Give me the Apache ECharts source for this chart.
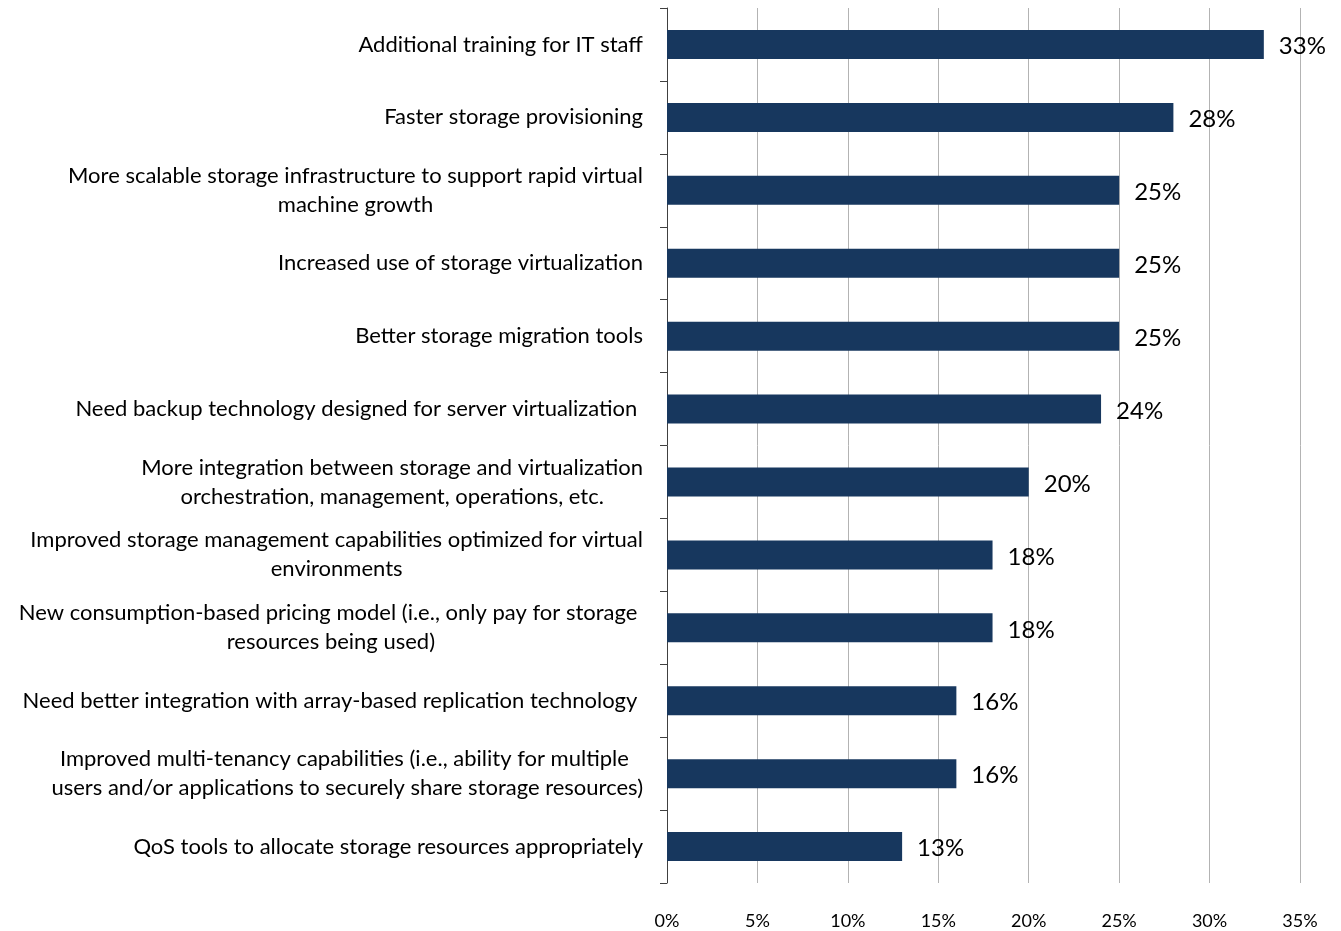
<!DOCTYPE html>
<html>
<head>
<meta charset="utf-8">
<script src="https://cdn.jsdelivr.net/npm/echarts@6/dist/echarts.min.js"></script>
<style>
  html, body { margin: 0; padding: 0; background: #fff; }
  #chart { width: 1341px; height: 931px; }
</style>
</head>
<body>
<div id="chart"></div>
<script>
// Survey responses, listed top to bottom
const categories = [
  'Additional training for IT staff',
  'Faster storage provisioning',
  'More scalable storage infrastructure to support rapid virtual\nmachine growth',
  'Increased use of storage virtualization',
  'Better storage migration tools',
  'Need backup technology designed for server virtualization ',
  'More integration between storage and virtualization\norchestration, management, operations, etc.',
  'Improved storage management capabilities optimized for virtual\nenvironments',
  'New consumption-based pricing model (i.e., only pay for storage \nresources being used)',
  'Need better integration with array-based replication technology ',
  'Improved multi-tenancy capabilities (i.e., ability for multiple \nusers and/or applications to securely share storage resources)',
  'QoS tools to allocate storage resources appropriately'
];
const percentages = [33, 28, 25, 25, 25, 24, 20, 18, 18, 16, 16, 13];
const tickLabels = ['0%', '5%', '10%', '15%', '20%', '25%', '30%', '35%'];

const FONT = 'Lato';
const CAT_SIZE = 22;

const chart = echarts.init(document.getElementById('chart'));
chart.setOption({
  animation: false,
  grid: { left: 667, right: 41, top: 8, bottom: 48, containLabel: false },
  xAxis: {
    type: 'value',
    min: 0,
    max: 35,
    interval: 5,
    axisLine: { show: false },
    axisTick: { show: false },
    splitLine: { show: true, lineStyle: { color: '#b3b3b3', width: 1 } },
    axisLabel: {
      margin: 29,
      fontFamily: FONT,
      fontSize: 18,
      color: '#000',
      formatter: function (v) { return tickLabels[Math.round(v / 5)]; }
    }
  },
  yAxis: {
    type: 'category',
    inverse: true,
    data: categories,
    axisLine: { show: true, lineStyle: { color: '#404040', width: 1 } },
    axisTick: { show: true, length: 7, lineStyle: { color: '#404040' } },
    axisLabel: {
      margin: 24,
      fontFamily: FONT,
      fontSize: CAT_SIZE,
      color: '#000',
      lineHeight: 29,
      formatter: function (v) {
        return v.split('\n').map(function (l) { return '{c|' + l + '}'; }).join('\n');
      },
      rich: {
        c: { align: 'center', fontFamily: FONT, fontSize: CAT_SIZE, lineHeight: 29, color: '#000' }
      }
    }
  },
  series: [{
    type: 'bar',
    data: percentages,
    barWidth: 29,
    itemStyle: { color: '#17375E' },
    label: {
      show: true,
      position: 'right',
      distance: 15,
      offset: [0, 2],
      fontFamily: FONT,
      fontSize: 24,
      color: '#000',
      formatter: '{c}%'
    }
  }]
});
</script>
</body>
</html>
